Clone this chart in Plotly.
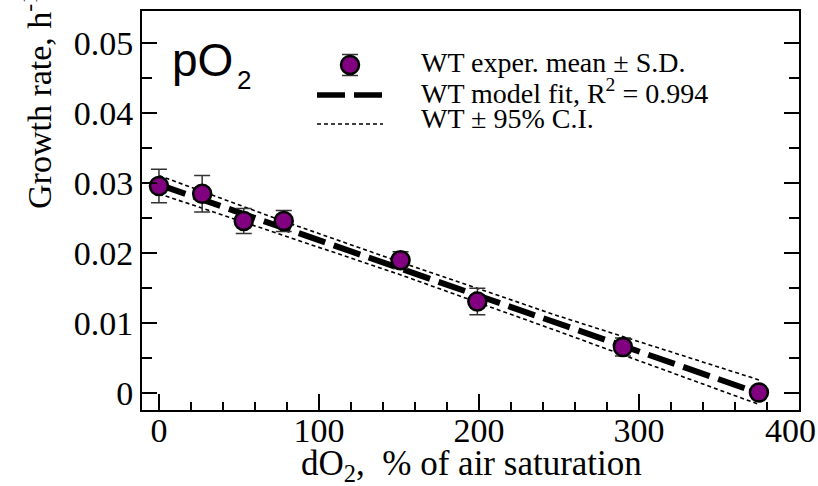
import plotly.graph_objects as go

# ---- data ----
do2 = [0, 27, 53, 78, 151, 199, 290, 375]
growth = [0.0296, 0.0285, 0.0246, 0.0246, 0.0190, 0.0131, 0.0066, 0.0001]
growth_sd = [0.0024, 0.0026, 0.0018, 0.0015, 0.0012, 0.0019, 0.0013, 0.0003]

fit_x = [0, 375]
fit_y = [0.0298, 0.0000]

ci_x = [0, 75, 150, 250, 375]
ci_upper = [0.0311, 0.0248, 0.0188, 0.0110, 0.0019]
ci_lower = [0.0285, 0.0228, 0.0170, 0.0088, -0.0016]

x_ticks = [0, 100, 200, 300, 400]
x_tick_labels = ["0", "100", "200", "300", "400\u2002"]
y_ticks = [0, 0.01, 0.02, 0.03, 0.04, 0.05]
y_tick_labels = ["0", "0.01", "0.02", "0.03", "0.04", "0.05"]

legend_labels = ["WT exper. mean ± S.D.",
                 "WT model fit, R<sup>2</sup> = 0.994",
                 "WT ± 95% C.I."]

PURPLE = "#800080"
SERIF = "Liberation Serif"
FIT_DASH = "28px,9px"
CI_DASH = "4px,3px"

W, H = 818, 486
L, R, T, B = 142, 799, 11, 410


def px_x(p):
    return (p - L) / (R - L)


def px_y(p):
    return (B - p) / (B - T)


fig = go.Figure()

# confidence interval lines
fig.add_trace(go.Scatter(x=ci_x, y=ci_upper, mode="lines",
                         line=dict(color="black", width=1.6, dash=CI_DASH),
                         showlegend=False, hoverinfo="skip"))
fig.add_trace(go.Scatter(x=ci_x, y=ci_lower, mode="lines",
                         line=dict(color="black", width=1.6, dash=CI_DASH),
                         showlegend=False, hoverinfo="skip"))
# model fit
fig.add_trace(go.Scatter(x=fit_x, y=fit_y, mode="lines",
                         line=dict(color="black", width=6, dash=FIT_DASH),
                         showlegend=False, hoverinfo="skip"))
# experimental means
fig.add_trace(go.Scatter(x=do2, y=growth, mode="markers",
                         marker=dict(size=18, color=PURPLE,
                                     line=dict(color="black", width=2.5)),
                         error_y=dict(type="data", array=growth_sd, visible=True,
                                      color="#333333", thickness=1.5, width=8),
                         showlegend=False, cliponaxis=False))

# ---- hand-drawn legend on a pixel-space overlay axis ----
fig.add_trace(go.Scatter(x=[350], y=[65], mode="markers", xaxis="x2", yaxis="y2",
                         marker=dict(size=18, color=PURPLE,
                                     line=dict(color="black", width=2.5)),
                         error_y=dict(type="constant", value=10.5, visible=True,
                                      color="#333333", thickness=1.5, width=8),
                         showlegend=False, cliponaxis=False))
fig.add_trace(go.Scatter(x=[317, 383], y=[95, 95], mode="lines", xaxis="x2", yaxis="y2",
                         line=dict(color="black", width=5.5, dash=FIT_DASH),
                         showlegend=False, cliponaxis=False))
fig.add_trace(go.Scatter(x=[317, 383], y=[124, 124], mode="lines", xaxis="x2", yaxis="y2",
                         line=dict(color="black", width=1.6, dash=CI_DASH),
                         showlegend=False, cliponaxis=False))

annotations = []
for lbl, yy in zip(legend_labels, [62, 91, 118]):
    annotations.append(dict(text=lbl, x=px_x(419), y=px_y(yy), xref="paper", yref="paper",
                            xanchor="left", yanchor="middle", showarrow=False,
                            font=dict(family=SERIF, size=28, color="black")))
# pO2 label
annotations.append(dict(text="pO", x=px_x(170), y=px_y(60), xref="paper", yref="paper",
                        xanchor="left", yanchor="middle", showarrow=False,
                        font=dict(family="Liberation Sans", size=46, color="black")))
annotations.append(dict(text="2", x=px_x(235), y=px_y(80), xref="paper", yref="paper",
                        xanchor="left", yanchor="middle", showarrow=False,
                        font=dict(family="Liberation Sans", size=26, color="black")))
# axis titles
annotations.append(dict(text="Growth rate, h<sup>-1</sup>", x=px_x(37), y=px_y(101),
                        xref="paper", yref="paper",
                        xanchor="center", yanchor="middle", textangle=-90, showarrow=False,
                        font=dict(family=SERIF, size=34, color="black")))
annotations.append(dict(text="dO<sub>2</sub>,\u00a0\u00a0% of air saturation",
                        x=px_x(471), y=px_y(465),
                        xref="paper", yref="paper", xanchor="center", yanchor="middle",
                        showarrow=False,
                        font=dict(family=SERIF, size=35, color="black")))

fig.update_layout(
    width=W, height=H,
    margin=dict(l=L, r=W - R, t=T, b=H - B, pad=0, autoexpand=False),
    paper_bgcolor="white", plot_bgcolor="white",
    showlegend=False,
    annotations=annotations,
    xaxis=dict(range=[-10.6, 400.05], tickvals=x_ticks, ticktext=x_tick_labels,
               ticks="inside", ticklen=16, automargin=False,
               tickwidth=1.6, tickcolor="black", showline=True, linecolor="black",
               linewidth=2, mirror=True, showgrid=False, zeroline=False,
               ticklabelstandoff=-11, ticklabeloverflow="allow",
               tickfont=dict(family=SERIF, size=34, color="black"),
               minor=dict(dtick=20, tick0=0, ticks="inside", ticklen=8,
                          tickwidth=1.6, tickcolor="black", showgrid=False)),
    yaxis=dict(range=[-0.0024, 0.0546], tickvals=y_ticks, ticktext=y_tick_labels,
               ticks="inside", ticklen=15, tickwidth=1.6, tickcolor="black",
               showline=True, linecolor="black", linewidth=2, mirror="ticks",
               showgrid=False, zeroline=False, automargin=False,
               tickfont=dict(family=SERIF, size=34, color="black"),
               minor=dict(dtick=0.005, tick0=0, ticks="inside", ticklen=10,
                          tickwidth=1.6, tickcolor="black", showgrid=False)),
    xaxis2=dict(range=[L, R], overlaying="x", anchor="y2", visible=False,
                showgrid=False, zeroline=False, automargin=False),
    yaxis2=dict(range=[B, T], overlaying="y", anchor="x2", visible=False,
                showgrid=False, zeroline=False, automargin=False),
)

fig.write_html("out.html")
